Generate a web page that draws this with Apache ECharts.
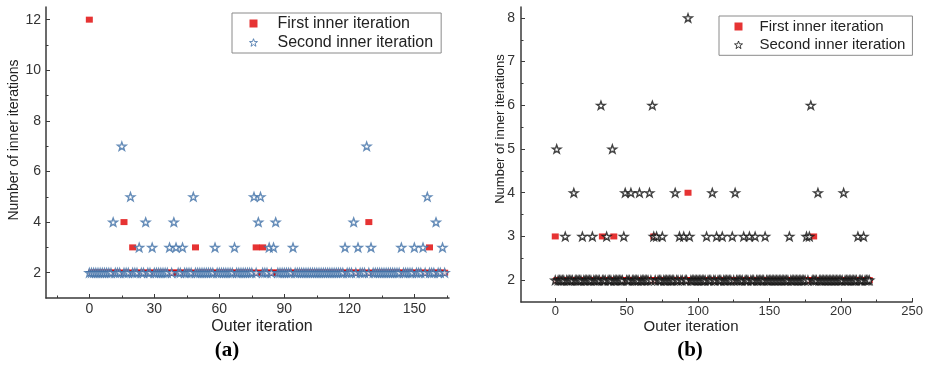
<!DOCTYPE html>
<html>
<head>
<meta charset="utf-8">
<script src="https://cdn.jsdelivr.net/npm/echarts@6/dist/echarts.min.js"></script>
<style>html,body{margin:0;padding:0;background:#fff;}#c{width:926px;height:366px;}</style>
</head>
<body>
<div id="c"></div>
<script>
// ---- Data (index = outer iteration) ----
var seriesNames = ['First inner iteration', 'Second inner iteration'];

// Panel (a): outer iterations 0..164
var aFirst = [
  12,2,2,2,2,2,2,2,2,2,
  2,2,2,2,2,2,4,2,2,2,
  3,2,2,2,2,2,2,2,2,2,
  2,2,2,2,2,2,2,2,2,2,
  2,2,2,2,2,2,2,2,2,3,
  2,2,2,2,2,2,2,2,2,2,
  2,2,2,2,2,2,2,2,2,2,
  2,2,2,2,2,2,2,3,2,2,
  3,2,2,2,2,2,2,2,2,2,
  2,2,2,2,2,2,2,2,2,2,
  2,2,2,2,2,2,2,2,2,2,
  2,2,2,2,2,2,2,2,2,2,
  2,2,2,2,2,2,2,2,2,4,
  2,2,2,2,2,2,2,2,2,2,
  2,2,2,2,2,2,2,2,2,2,
  2,2,2,2,2,2,2,3,2,2,
  2,2,2,2,2
];
var aSecond = [
  2,2,2,2,2,2,2,2,2,2,
  2,4,2,2,2,7,2,2,2,5,
  2,2,2,3,2,2,4,2,2,3,
  2,2,2,2,2,2,2,3,2,4,
  3,2,2,3,2,2,2,2,5,2,
  2,2,2,2,2,2,2,2,3,2,
  2,2,2,2,2,2,2,3,2,2,
  2,2,2,2,2,2,5,2,4,5,
  2,2,2,3,2,3,4,2,2,2,
  2,2,2,2,3,2,2,2,2,2,
  2,2,2,2,2,2,2,2,2,2,
  2,2,2,2,2,2,2,2,3,2,
  2,2,4,2,3,2,2,2,7,2,
  3,2,2,2,2,2,2,2,2,2,
  2,2,2,2,3,2,2,2,2,2,
  3,2,2,2,3,2,5,2,2,2,
  4,2,2,3,2
];

// Panel (b): outer iterations 0..220
var bFirst = [
  3,2,2,2,2,2,2,2,2,2,
  2,2,2,2,2,2,2,2,2,2,
  2,2,2,2,2,2,2,2,2,2,
  2,2,2,3,2,2,2,2,2,2,
  2,3,2,2,2,2,2,2,2,2,
  2,2,2,2,2,2,2,2,2,2,
  2,2,2,2,2,2,2,2,2,3,
  2,2,2,2,2,2,2,2,2,2,
  2,2,2,2,2,2,2,2,2,2,
  2,2,2,4,2,2,2,2,2,2,
  2,2,2,2,2,2,2,2,2,2,
  2,2,2,2,2,2,2,2,2,2,
  2,2,2,2,2,2,2,2,2,2,
  2,2,2,2,2,2,2,2,2,2,
  2,2,2,2,2,2,2,2,2,2,
  2,2,2,2,2,2,2,2,2,2,
  2,2,2,2,2,2,2,2,2,2,
  2,2,2,2,2,2,2,2,2,2,
  2,3,2,2,2,2,2,2,2,2,
  2,2,2,2,2,2,2,2,2,2,
  2,2,2,2,2,2,2,2,2,2,
  2,2,2,2,2,2,2,2,2,2,
  2
];
var bSecond = [
  2,5,2,2,2,2,2,3,2,2,
  2,2,2,4,2,2,2,2,2,3,
  2,2,2,2,2,2,3,2,2,2,
  2,2,6,2,2,2,3,2,2,2,
  5,2,2,2,2,2,2,2,3,4,
  2,2,2,4,2,2,2,2,2,4,
  2,2,2,2,2,2,4,2,6,3,
  2,3,2,2,2,3,2,2,2,2,
  2,2,2,2,4,2,2,3,2,2,
  3,2,2,8,3,2,2,2,2,2,
  2,2,2,2,2,2,3,2,2,2,
  4,2,2,3,2,2,2,3,2,2,
  2,2,2,2,3,2,4,2,2,2,
  2,2,3,2,2,2,3,2,2,2,
  3,2,2,2,2,2,2,3,2,2,
  2,2,2,2,2,2,2,2,2,2,
  2,2,2,2,3,2,2,2,2,2,
  2,2,2,2,2,2,3,2,3,6,
  2,2,2,2,4,2,2,2,2,2,
  2,2,2,2,2,2,2,2,2,2,
  2,2,4,2,2,2,2,2,2,2,
  2,2,3,2,2,2,3,2,2,2,
  2
];

// Tick labels
var aXTicks = [0, 30, 60, 90, 120, 150];
var aXMinor = [-15, 15, 45, 75, 105, 135, 165];
var aYTicks = [2, 4, 6, 8, 10, 12];
var aYMinor = [3, 5, 7, 9, 11];
var bXTicks = [0, 50, 100, 150, 200, 250];
var bXMinor = [25, 75, 125, 175, 225];
var bYTicks = [2, 3, 4, 5, 6, 7, 8];
var bYMinor = [2.5, 3.5, 4.5, 5.5, 6.5, 7.5];

function pairs(arr) { return arr.map(function (v, i) { return [i, v]; }); }

var STAR = 'path://M0,-10L2.35,-3.24L9.51,-3.09L3.8,1.24L5.88,8.09L0,4L-5.88,8.09L-3.8,1.24L-9.51,-3.09L-2.35,-3.24Z';
var RED = '#e00000';
var BLUE = '#3f6fa6';
var FONT = '"Liberation Sans", Arial, sans-serif';
var AXC = '#3a3a3a';

function mainX(grid, min, max, ticks, fs, margin) {
  return {
    type: 'value', gridIndex: grid, min: min, max: max, position: 'bottom',
    axisLine: { show: true, onZero: false, lineStyle: { color: AXC, width: 1.5 } },
    axisTick: { show: true, inside: true, length: 4, customValues: ticks, lineStyle: { color: AXC } },
    axisLabel: { show: true, customValues: ticks, margin: margin, fontSize: fs, color: '#333', fontFamily: FONT },
    splitLine: { show: false }
  };
}
function minorX(grid, min, max, ticks) {
  return {
    type: 'value', gridIndex: grid, min: min, max: max, position: 'bottom', offset: 0,
    axisLine: { show: false, onZero: false },
    axisTick: { show: true, inside: true, length: 2.5, customValues: ticks, lineStyle: { color: AXC } },
    axisLabel: { show: false }, splitLine: { show: false }
  };
}
function mainY(grid, min, max, ticks, fs, margin) {
  return {
    type: 'value', gridIndex: grid, min: min, max: max, position: 'left',
    axisLine: { show: true, onZero: false, lineStyle: { color: AXC, width: 1.5 } },
    axisTick: { show: true, inside: true, length: 4, customValues: ticks, lineStyle: { color: AXC } },
    axisLabel: { show: true, customValues: ticks, margin: margin, fontSize: fs, color: '#333', fontFamily: FONT },
    splitLine: { show: false }
  };
}
function minorY(grid, min, max, ticks) {
  return {
    type: 'value', gridIndex: grid, min: min, max: max, position: 'left', offset: 0,
    axisLine: { show: false, onZero: false },
    axisTick: { show: true, inside: true, length: 2.5, customValues: ticks, lineStyle: { color: AXC } },
    axisLabel: { show: false }, splitLine: { show: false }
  };
}

var starStyleA = { color: '#fff', borderColor: BLUE, borderWidth: 1.4 };
var starStyleB = { color: '#fff', borderColor: '#111', borderWidth: 1.4 };

var chart = echarts.init(document.getElementById('c'), null, { renderer: 'canvas' });
chart.setOption({
  animation: false,
  backgroundColor: '#fff',
  grid: [
    { left: 46, top: 7, width: 403, height: 291 },
    { left: 521, top: 7, width: 393, height: 295 }
  ],
  xAxis: [
    mainX(0, -20, 166, aXTicks, 14, 4),
    mainX(1, -24, 250, bXTicks, 13, 3),
    minorX(0, -20, 166, aXMinor),
    minorX(1, -24, 250, bXMinor)
  ],
  yAxis: [
    mainY(0, 1, 12.5, aYTicks, 14, 5),
    mainY(1, 1.5, 8.25, bYTicks, 14, 6),
    minorY(0, 1, 12.5, aYMinor),
    minorY(1, 1.5, 8.25, bYMinor)
  ],
  legend: [
    {
      data: [
        { name: 'a1', icon: 'rect', itemStyle: { color: RED, borderWidth: 0 } },
        { name: 'a2', icon: STAR, itemStyle: { color: '#fff', borderColor: BLUE, borderWidth: 1 } }
      ],
      formatter: function (n) { return n === 'a1' ? seriesNames[0] : seriesNames[1]; },
      orient: 'vertical', left: 232, top: 13,
      padding: [2.5, 8, 2.5, 17], itemGap: 3, itemWidth: 8, itemHeight: 8,
      borderColor: '#8a8a8a', borderWidth: 1, selectedMode: false,
      textStyle: { fontSize: 16, lineHeight: 15, color: '#222', fontFamily: FONT, padding: [0, 0, 0, 15] }
    },
    {
      data: [
        { name: 'b1', icon: 'rect', itemStyle: { color: RED, borderWidth: 0 } },
        { name: 'b2', icon: STAR, itemStyle: { color: '#fff', borderColor: '#111', borderWidth: 1 } }
      ],
      formatter: function (n) { return n === 'b1' ? seriesNames[0] : seriesNames[1]; },
      orient: 'vertical', left: 719, top: 16,
      padding: [3, 7, 3, 15], itemGap: 3.3, itemWidth: 8, itemHeight: 8,
      borderColor: '#8a8a8a', borderWidth: 1, selectedMode: false,
      textStyle: { fontSize: 15, lineHeight: 15, color: '#222', fontFamily: FONT, padding: [0, 0, 0, 12] }
    }
  ],
  series: [
    {
      name: 'a1', type: 'scatter', xAxisIndex: 0, yAxisIndex: 0, data: pairs(aFirst),
      symbol: 'rect', symbolSize: [7, 6], z: 2,
      itemStyle: { color: RED }
    },
    {
      name: 'a2', type: 'scatter', xAxisIndex: 0, yAxisIndex: 0, data: pairs(aSecond),
      symbol: STAR, symbolSize: 8.5, symbolKeepAspect: true, z: 3,
      itemStyle: starStyleA
    },
    {
      name: 'b1', type: 'scatter', xAxisIndex: 1, yAxisIndex: 1, data: pairs(bFirst),
      symbol: 'rect', symbolSize: [7, 6], z: 2,
      itemStyle: { color: RED }
    },
    {
      name: 'b2', type: 'scatter', xAxisIndex: 1, yAxisIndex: 1, data: pairs(bSecond),
      symbol: STAR, symbolSize: 8.5, symbolKeepAspect: true, z: 3,
      itemStyle: starStyleB
    }
  ],
  graphic: [
    { type: 'text', x: 14, y: 140, rotation: Math.PI / 2,
      style: { text: 'Number of inner iterations', font: '14px ' + FONT, fill: '#222', align: 'center', verticalAlign: 'middle' } },
    { type: 'text', x: 500, y: 129, rotation: Math.PI / 2,
      style: { text: 'Number of inner iterations', font: '13px ' + FONT, fill: '#222', align: 'center', verticalAlign: 'middle' } },
    { type: 'text', x: 262, y: 327,
      style: { text: 'Outer iteration', font: '16px ' + FONT, fill: '#222', align: 'center', verticalAlign: 'middle' } },
    { type: 'text', x: 691, y: 327,
      style: { text: 'Outer iteration', font: '15px ' + FONT, fill: '#222', align: 'center', verticalAlign: 'middle' } },
    { type: 'text', x: 227, y: 351,
      style: { text: '(a)', font: 'bold 21px "Liberation Serif", "Times New Roman", serif', fill: '#000', align: 'center', verticalAlign: 'middle' } },
    { type: 'text', x: 690, y: 351,
      style: { text: '(b)', font: 'bold 21px "Liberation Serif", "Times New Roman", serif', fill: '#000', align: 'center', verticalAlign: 'middle' } }
  ]
});
</script>
</body>
</html>
